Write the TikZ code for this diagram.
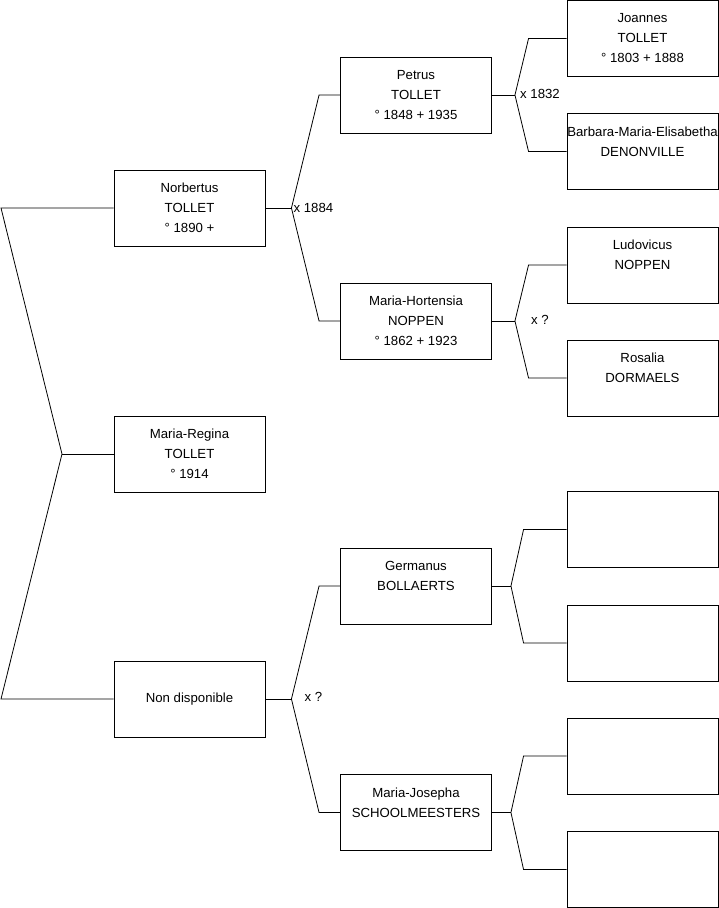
\documentclass[tikz,border=0pt]{standalone}
\usepackage{fontspec}
\setmainfont{Liberation Sans}
\begin{document}
\begin{tikzpicture}[x={(1pt,0)},y={(0,-1pt)},
  person/.style={draw=black,line width=0.9pt,rectangle,minimum width=151pt,minimum height=76pt,
    inner sep=0pt,align=center,font=\fontsize{13.2}{20}\selectfont},
  link/.style={draw=black,line width=0.8pt},
  marr/.style={anchor=west,inner sep=0pt,font=\fontsize{13.2}{15}\selectfont}]
\useasboundingbox (0,0) rectangle (719,908);
% level 1
\node[person] (n1) at (189.5,208) {Norbertus\\TOLLET\\° 1890 +};
\node[person] (n2) at (189.5,454) {Maria-Regina\\TOLLET\\° 1914};
\node[person] (n3) at (189.5,699) {Non disponible};
% level 2
\node[person] (p1) at (416,95) {Petrus\\TOLLET\\° 1848 + 1935};
\node[person] (p2) at (416,321) {Maria-Hortensia\\NOPPEN\\° 1862 + 1923};
\node[person] (p3) at (416,586) {Germanus\\BOLLAERTS\\~};
\node[person] (p4) at (416,812.5) {Maria-Josepha\\SCHOOLMEESTERS\\~};
% level 3
\node[person] (g1) at (642.5,38.5) {Joannes\\TOLLET\\° 1803 + 1888};
\node[person] (g2) at (642.5,151.5) {\makebox[140pt]{Barbara-Maria-Elisabetha}\\DENONVILLE\\~};
\node[person] (g3) at (642.5,265) {Ludovicus\\NOPPEN\\~};
\node[person] (g4) at (642.5,378) {Rosalia\\DORMAELS\\~};
\node[person] (g5) at (642.5,529.5) {};
\node[person] (g6) at (642.5,643) {};
\node[person] (g7) at (642.5,756) {};
\node[person] (g8) at (642.5,869.5) {};
% root bracket
\coordinate (rt) at (1,208);
\coordinate (rm) at (62,454);
\coordinate (rb) at (1,699);
\draw[link] (n1.west) -- (rt) -- (rm) -- (rb) -- (n3.west);
\draw[link] (rm) -- (n2.west);
% forks level1 -> level2
\coordinate (f1) at ([xshift=26pt]n1.east);
\draw[link] (n1.east) -- (f1);
\draw[link] (p1.west) -- ([xshift=-21pt]p1.west) -- (f1) -- ([xshift=-21pt]p2.west) -- (p2.west);
\node[marr] (m1) at ([xshift=2pt]f1) {x 1884};
\coordinate (f3) at ([xshift=26pt]n3.east);
\draw[link] (n3.east) -- (f3);
\draw[link] (p3.west) -- ([xshift=-21pt]p3.west) -- (f3) -- ([xshift=-21pt]p4.west) -- (p4.west);
\node[marr] (m3) at ([xshift=13pt,yshift=2pt]f3) {x ?};
% forks level2 -> level3
\coordinate (h1) at ([xshift=23pt]p1.east);
\draw[link] (p1.east) -- (h1);
\draw[link] (g1.west) -- ([xshift=-38pt]g1.west) -- (h1) -- ([xshift=-38pt]g2.west) -- (g2.west);
\node[marr] (m2) at ([xshift=5pt,yshift=1.5pt]h1) {x 1832};
\coordinate (h2) at ([xshift=23pt]p2.east);
\draw[link] (p2.east) -- (h2);
\draw[link] (g3.west) -- ([xshift=-38pt]g3.west) -- (h2) -- ([xshift=-38pt]g4.west) -- (g4.west);
\node[marr] (m4) at ([xshift=16pt,yshift=1pt]h2) {x ?};
\coordinate (h3) at ([xshift=19pt]p3.east);
\draw[link] (p3.east) -- (h3);
\draw[link] (g5.west) -- ([xshift=-43pt]g5.west) -- (h3) -- ([xshift=-43pt]g6.west) -- (g6.west);
\coordinate (h4) at ([xshift=19pt]p4.east);
\draw[link] (p4.east) -- (h4);
\draw[link] (g7.west) -- ([xshift=-43pt]g7.west) -- (h4) -- ([xshift=-43pt]g8.west) -- (g8.west);
\end{tikzpicture}
\end{document}
